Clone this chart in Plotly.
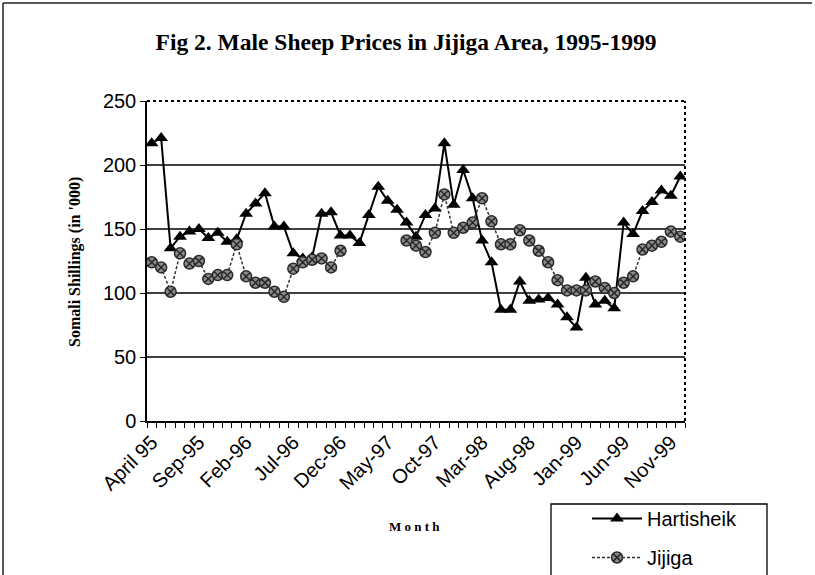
import plotly.graph_objects as go

months = (["April 95", "May-95", "Jun-95", "Jul-95", "Aug-95", "Sep-95", "Oct-95", "Nov-95", "Dec-95"]
          + [f"{m}-{y}" for y in ["96", "97", "98", "99"] for m in
             ["Jan", "Feb", "Mar", "Apr", "May", "Jun", "Jul", "Aug", "Sep", "Oct", "Nov", "Dec"]])

hartisheik = [217, 221, 135, 144, 148, 150, 143, 147, 140, 142,
              162, 170, 178, 152, 152, 131, 127, 128, 162, 163,
              145, 145, 139, 161, 183, 172, 165, 155, 144, 161,
              166, 217, 169, 196, 174, 141, 124, 87, 87, 109,
              94, 95, 96, 91, 81, 73, 112, 91, 94, 88,
              155, 146, 164, 171, 180, 176, 191]

jijiga = [124, 120, 101, 131, 123, 125, 111, 114, 114, 138,
          113, 108, 108, 101, 97, 119, 124, 126, 127, 120,
          133, None, None, None, None, None, None, 141, 137, 132,
          147, 177, 147, 151, 155, 174, 156, 138, 138, 149,
          141, 133, 124, 110, 102, 102, 102, 109, 104, 100,
          108, 113, 134, 137, 140, 148, 144]

label_months = ["April 95", "Sep-95", "Feb-96", "Jul-96", "Dec-96", "May-97",
                "Oct-97", "Mar-98", "Aug-98", "Jan-99", "Jun-99", "Nov-99"]
y_ticks = [0, 50, 100, 150, 200, 250]
grid_vals = [50, 100, 150, 200]

title = "Fig 2. Male Sheep Prices in Jijiga Area, 1995-1999"
y_title = "Somali Shillings (in '000)"
x_title = "M o n t h"

W, H = 815, 575
# plot area in screen pixels: x 147..685, y 101..421
L, T = 147, 101
pw, ph = 538, 320
R, B = W - L - pw, H - T - ph


def px(x):
    return (x - L) / pw


def py(y):
    return (T + ph - y) / ph


fig = go.Figure()
fig.add_trace(go.Scatter(
    x=months, y=hartisheik, name="Hartisheik", mode="lines+markers",
    legendgroup="h",
    line=dict(color="black", width=2),
    marker=dict(symbol="triangle-up", size=12, color="black"),
))
fig.add_trace(go.Scatter(
    x=months, y=jijiga, name="Jijiga", mode="lines+markers",
    legendgroup="j",
    line=dict(color="#333333", width=1.5, dash="3px,2px"),
    marker=dict(symbol="circle-x", size=11, color="#8a8a8a",
                line=dict(color="#2a2a2a", width=1.5)),
    connectgaps=False,
))

shapes = []
for g in grid_vals:
    shapes.append(dict(type="line", xref="paper", yref="y", x0=0, x1=1, y0=g, y1=g,
                       line=dict(color="black", width=1.3), layer="below"))
# dotted plot-area border (top and right)
shapes.append(dict(type="line", xref="paper", yref="paper", x0=0, x1=1, y0=1, y1=1,
                   line=dict(color="black", width=2, dash="dot")))
shapes.append(dict(type="line", xref="paper", yref="paper", x0=1, x1=1, y0=0, y1=1,
                   line=dict(color="black", width=2, dash="dot")))
# chart-area frame (top and left)
shapes.append(dict(type="line", xref="paper", yref="paper", x0=px(3), x1=px(812),
                   y0=py(3), y1=py(3), line=dict(color="#222", width=1.5)))
shapes.append(dict(type="line", xref="paper", yref="paper", x0=px(3), x1=px(3),
                   y0=py(3), y1=py(590), line=dict(color="#222", width=1.5)))
# legend frame
shapes.append(dict(type="rect", xref="paper", yref="paper", x0=px(551), x1=px(767),
                   y0=py(504), y1=py(600), line=dict(color="black", width=1.3),
                   fillcolor="rgba(0,0,0,0)"))

ticktext = [m if m in label_months else "" for m in months]

fig.update_layout(
    width=W, height=H,
    margin=dict(l=L, r=R, t=T, b=B, autoexpand=False),
    paper_bgcolor="white", plot_bgcolor="white",
    showlegend=True,
    title=dict(text=f"<b>{title}</b>", x=406 / W, xanchor="center",
               y=1 - 42 / H, yanchor="middle",
               font=dict(family="Liberation Serif", size=23.5, color="black")),
    xaxis=dict(
        type="category", tickmode="array", tickvals=months, ticktext=ticktext,
        tickson="boundaries", ticks="outside", ticklen=5, tickwidth=1, tickcolor="black",
        tickangle=-45, showline=True, linecolor="black", linewidth=1.5,
        showgrid=False, range=[-0.5, len(months) - 0.5], automargin=False,
        tickfont=dict(family="Liberation Sans", size=20, color="black"),
    ),
    yaxis=dict(
        range=[0, 250], tickmode="array", tickvals=y_ticks,
        ticks="outside", ticklen=5, tickcolor="black",
        showline=True, linecolor="black", linewidth=1.5,
        showgrid=False, zeroline=False, automargin=False,
        tickfont=dict(family="Liberation Sans", size=20, color="black"),
    ),
    legend=dict(
        x=px(587), y=py(499), xanchor="left", yanchor="top",
        borderwidth=0, bgcolor="rgba(0,0,0,0)",
        font=dict(family="Liberation Sans", size=20, color="black"),
        traceorder="grouped", tracegroupgap=10, itemwidth=50,
    ),
    shapes=shapes,
    annotations=[
        dict(text=f"<b>{y_title}</b>", xref="paper", yref="paper", x=px(75), y=py(262),
             xanchor="center", yanchor="middle",
             textangle=-90, showarrow=False,
             font=dict(family="Liberation Serif", size=16, color="black")),
        dict(text=f"<b>{x_title}</b>", xref="paper", yref="paper", x=px(414), y=py(526),
             xanchor="center", yanchor="middle",
             showarrow=False,
             font=dict(family="Liberation Serif", size=13, color="black")),
    ],
)

fig.write_html("out.html", config={"displayModeBar": False},
               post_script="document.body.style.margin='0';document.body.style.overflow='hidden';")
